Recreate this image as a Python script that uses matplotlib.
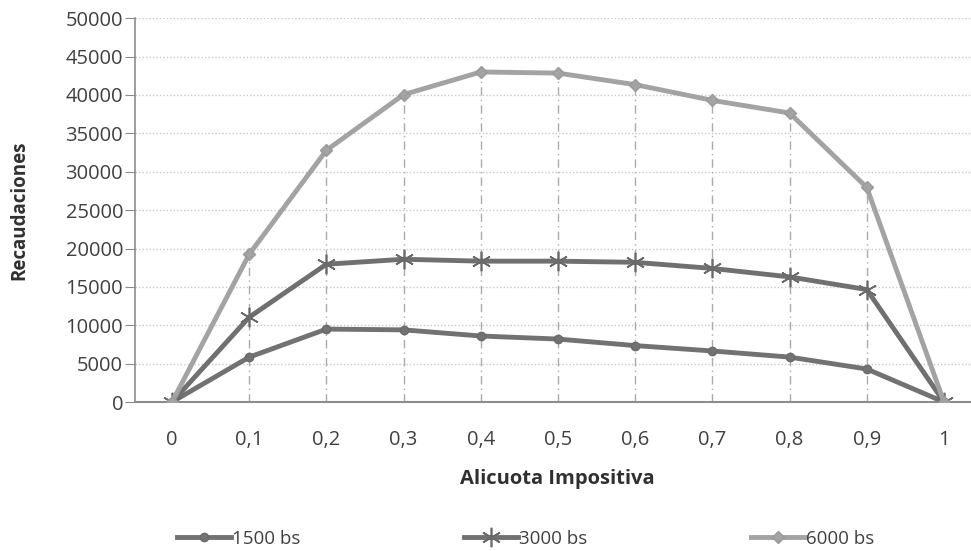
import matplotlib.pyplot as plt

# Datos
alicuota = [0, 0.1, 0.2, 0.3, 0.4, 0.5, 0.6, 0.7, 0.8, 0.9, 1]
etiquetas_x = ["0", "0,1", "0,2", "0,3", "0,4", "0,5", "0,6", "0,7", "0,8", "0,9", "1"]
rec_1500 = [0, 5850, 9500, 9400, 8600, 8200, 7350, 6650, 5850, 4300, 0]
rec_3000 = [0, 11050, 17950, 18600, 18350, 18350, 18200, 17400, 16300, 14650, 0]
rec_6000 = [0, 19250, 32800, 40050, 43000, 42850, 41350, 39300, 37650, 27950, 0]
yticks = list(range(0, 50001, 5000))

plt.rcParams['font.family'] = ['Open Sans', 'DejaVu Sans']

fig = plt.figure(figsize=(9.71, 5.51), dpi=100)
ax = fig.add_axes([0.139, 0.2704, 0.861, 0.6965])

# Líneas de caída (drop lines) desde el máximo hasta el eje
for x, a, b, c in zip(alicuota, rec_1500, rec_3000, rec_6000):
    top = max(a, b, c)
    if top > 0:
        ax.vlines(x, 0, top, colors="#ababab", linestyles=(0, (6, 3, 1, 3)),
                  linewidth=1, zorder=1)

# Cuadrícula horizontal punteada
ax.yaxis.grid(True, color="#c8c8c8", linestyle=(0, (1, 1.5)), linewidth=1)
ax.set_axisbelow(True)

ax.plot(alicuota, rec_1500, color="#727272", linewidth=3.5, marker="o",
        markersize=6, markeredgecolor="#6a6a6a", label="1500 bs", zorder=3)
ax.plot(alicuota, rec_3000, color="#707070", linewidth=3.5, marker=(6, 2, 0),
        markersize=14, markeredgewidth=1.2, markeredgecolor="#6a6a6a",
        label="3000 bs", zorder=3)
ax.plot(alicuota, rec_6000, color="#a3a3a3", linewidth=3.5, marker="D",
        markersize=6, markeredgecolor="#9a9a9a", label="6000 bs", zorder=4)

ax.set_xlim(-0.048, 1.035)
ax.set_ylim(0, 50000)
ax.set_xticks(alicuota)
ax.set_xticklabels(etiquetas_x)
ax.set_yticks(yticks)
ax.set_yticklabels([str(v) for v in yticks])

for s in ["top", "right"]:
    ax.spines[s].set_visible(False)
ax.spines["left"].set_color("#8c8c8c")
ax.spines["bottom"].set_color("#8c8c8c")
ax.spines["left"].set_linewidth(1.2)
ax.spines["bottom"].set_linewidth(1.5)

ax.tick_params(axis="y", length=7, color="#8c8c8c", labelsize=14.5,
               labelcolor="#404040", pad=1.5)
ax.tick_params(axis="x", length=0, labelsize=14.5, labelcolor="#404040", pad=20)

ax.set_xlabel("Alicuota Impositiva", fontsize=14.5, fontweight="bold",
              color="#303030")
ax.set_ylabel("Recaudaciones", fontsize=13.5, fontweight="bold",
              color="#303030")
ax.xaxis.set_label_coords(0.505, -0.175)
ax.yaxis.set_label_coords(-0.126, 0.5)

fig.legend(loc="center left", bbox_to_anchor=(0.165, 0.022), ncol=3, frameon=False,
           fontsize=13.5, handlelength=2.9, handletextpad=0.05,
           columnspacing=8.7, labelcolor="#404040")

fig.savefig("out.png", dpi=100)
